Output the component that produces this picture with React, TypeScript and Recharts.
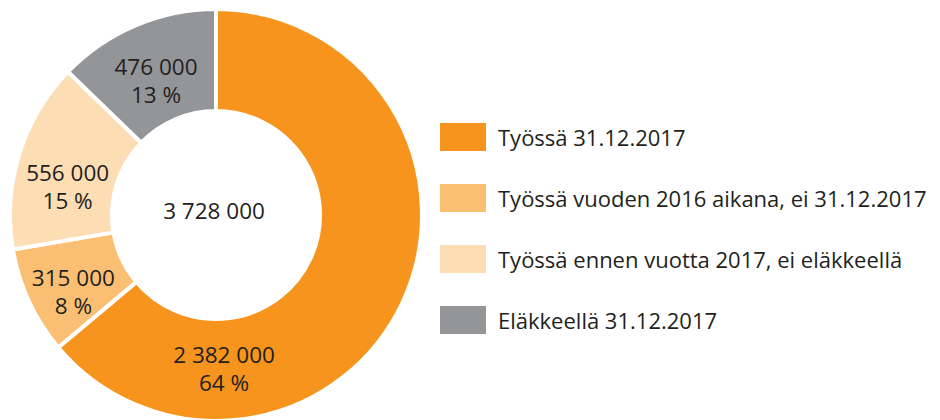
import React from 'react';
import { PieChart, Pie, Cell, Legend } from 'recharts';

const categories = [
  'Työssä 31.12.2017',
  'Työssä vuoden 2016 aikana, ei 31.12.2017',
  'Työssä ennen vuotta 2017, ei eläkkeellä',
  'Eläkkeellä 31.12.2017',
];
const values = [2382000, 315000, 556000, 476000];
const valueLabels = ['2 382 000', '315 000', '556 000', '476 000'];
const percentLabels = ['64 %', '8 %', '15 %', '13 %'];
const totalLabel = '3 728 000';
const colors = ['#F7941E', '#FBBF74', '#FDDDB4', '#939598'];
// label direction (degrees, counter-clockwise from 3 o'clock) and radius factor for each slice
const labelAngles = [-87, 208.3, 169.3, 114.1];
const labelRadiusFactors = [0.993, 1.045, 0.974, 0.948];

const FONT = '"Open Sans", "Noto Sans", sans-serif';
const TEXT = '#231f20';
const PIE_CX = 208;
const PIE_CY = 207;

const data = categories.map((name, i) => ({ name, value: values[i] }));

const renderLabel = (props: any) => {
  const { cx, cy, index, innerRadius, outerRadius } = props;
  const r = ((Number(innerRadius) + Number(outerRadius)) / 2) * labelRadiusFactors[index];
  const a = (labelAngles[index] * Math.PI) / 180;
  const x = cx + r * Math.cos(a);
  const y = cy - r * Math.sin(a);
  return (
    <text textAnchor="middle" fill={TEXT} fontSize={22.5} fontFamily={FONT}>
      <tspan x={x} y={y - 6}>{valueLabels[index]}</tspan>
      <tspan x={x} y={y + 22}>{percentLabels[index]}</tspan>
    </text>
  );
};

const renderLegend = () => (
  <div style={{ fontFamily: FONT, color: TEXT }}>
    {categories.map((c, i) => (
      <div key={c} style={{ height: 61, display: 'flex', alignItems: 'center' }}>
        <div style={{ width: 46, height: 28, background: colors[i], flex: 'none' }} />
        <div style={{ marginLeft: 12, fontSize: 22, whiteSpace: 'nowrap' }}>{c}</div>
      </div>
    ))}
  </div>
);

export default function App() {
  return (
    <PieChart width={940} height={420} margin={{ top: 0, right: 0, bottom: 0, left: 0 }}>
      <Pie
        data={data}
        dataKey="value"
        nameKey="name"
        cx={PIE_CX}
        cy={PIE_CY}
        innerRadius={104}
        outerRadius={206}
        startAngle={90}
        endAngle={-270}
        stroke="#ffffff"
        strokeWidth={4}
        label={renderLabel}
        labelLine={false}
        isAnimationActive={false}
      >
        {data.map((d, i) => (
          <Cell key={d.name} fill={colors[i]} />
        ))}
      </Pie>
      <text x={PIE_CX - 2} y={PIE_CY + 4} textAnchor="middle" fill={TEXT} fontSize={22.5} fontFamily={FONT}>
        {totalLabel}
      </text>
      <Legend
        content={renderLegend}
        layout="vertical"
        wrapperStyle={{ position: 'absolute', left: 432, top: 98, width: 500 }}
      />
    </PieChart>
  );
}
